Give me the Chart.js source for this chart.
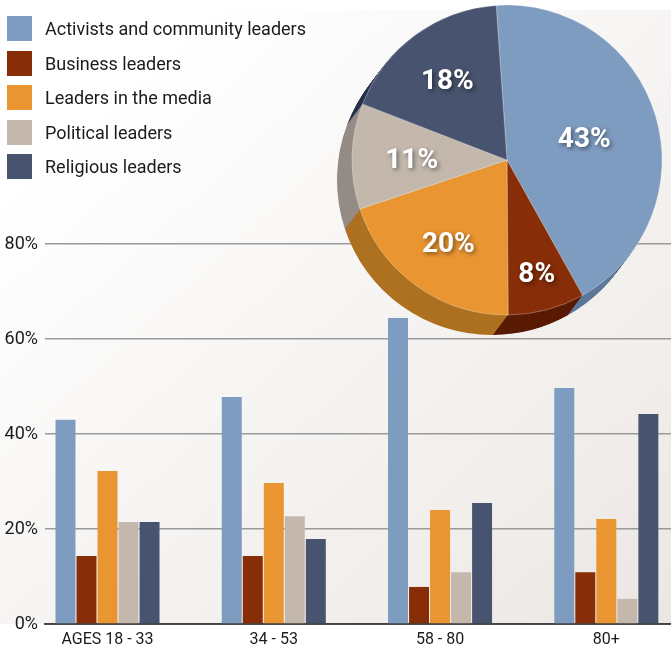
<!DOCTYPE html>
<html>
<head>
<meta charset="utf-8">
<script src="https://cdn.jsdelivr.net/npm/chart.js@4.4.1/dist/chart.umd.min.js"></script>
<style>
  html, body { margin: 0; padding: 0; background: #fff; }
  #wrap { position: relative; width: 671px; height: 648px; overflow: hidden; }
  #panel { position: absolute; left: 0; top: 10px; width: 671px; height: 614px;
           background: linear-gradient(to bottom right, #ffffff 15%, #ebe7e3 100%); }
  #barChart { position: absolute; left: 0; top: 0; }
  #pieChart { position: absolute; left: 332px; top: 0; }
  #legend { position: absolute; left: 7px; top: 16px; font: 18px Roboto, sans-serif; color: #1b1b1b; }
  #legend .row { display: flex; align-items: center; height: 25px; margin-bottom: 9.5px; }
  #legend .box { width: 25px; height: 25px; margin-right: 13px; }
</style>
</head>
<body>
<div id="wrap">
  <div id="panel"></div>
  <canvas id="barChart" width="671" height="648"></canvas>
  <canvas id="pieChart" width="339" height="340"></canvas>
  <div id="legend"></div>
</div>
<script>
// data
const categories = ["AGES 18 - 33", "34 - 53", "58 - 80", "80+"];
const seriesNames = ["Activists and community leaders", "Business leaders", "Leaders in the media", "Political leaders", "Religious leaders"];
const activists = [43, 47.8, 64.4, 49.7];
const business = [14.3, 14.3, 7.8, 10.9];
const media = [32.2, 29.7, 24, 22.1];
const political = [21.5, 22.7, 10.9, 5.3];
const religious = [21.5, 17.9, 25.5, 44.2];
const yTicks = [0, 20, 40, 60, 80];

const pieValues = [43, 8, 20, 11, 18];
const pieLabels = ["43%", "8%", "20%", "11%", "18%"];

// styles
const colors = ["#7e9bc0", "#872d07", "#e89532", "#c4b8ad", "#48546f"];
const sideColors = ["#5d7898", "#5a1b04", "#ad7120", "#958c86", "#26324d"];
const labelRadius = [0.52, 0.75, 0.65, 0.615, 0.648];

// html legend
const legendEl = document.getElementById("legend");
seriesNames.forEach((name, i) => {
    const row = document.createElement("div");
    row.className = "row";
    row.innerHTML = '<span class="box" style="background:' + colors[i] + '"></span><span>' + name + '</span>';
    legendEl.appendChild(row);
});

const seriesValues = [activists, business, media, political, religious];

// bar chart
new Chart(document.getElementById("barChart"), {
    type: "bar",
    data: {
        datasets: seriesValues.map((vals, i) => ({
            label: seriesNames[i],
            backgroundColor: colors[i],
            data: vals.map((v, j) => ({ x: j, y: v })),
        })),
    },
    options: {
        responsive: false,
        animation: false,
        layout: { padding: { top: 244, right: 0, bottom: 0, left: 0 } },
        datasets: { bar: { categoryPercentage: 0.632, barPercentage: 0.95 } },
        plugins: { legend: { display: false }, tooltip: { enabled: false } },
        scales: {
            x: {
                type: "linear",
                bounds: "data",
                min: -0.376,
                max: 3.389,
                offset: false,
                z: 1,
                afterBuildTicks: (s) => { s.ticks = categories.map((c, i) => ({ value: i })); },
                afterFit: (s) => { s.height = 24; s.paddingLeft = 0; s.paddingRight = 0; },
                grid: { display: false, drawTicks: false },
                border: { display: true, color: "rgba(50,50,50,0.85)", width: 2 },
                ticks: {
                    autoSkip: false,
                    maxRotation: 0,
                    padding: 6,
                    color: "#1b1b1b",
                    font: { family: "Roboto", size: 16 },
                    callback: (v) => categories[v] ?? "",
                },
            },
            y: {
                min: yTicks[0],
                max: yTicks[yTicks.length - 1],
                afterFit: (s) => { s.width = 45; },
                grid: { color: "#9a9a9a", lineWidth: 1.5, drawTicks: false },
                border: { display: false },
                ticks: {
                    stepSize: 20,
                    padding: 7,
                    color: "#1b1b1b",
                    font: { family: "Roboto", size: 18 },
                    callback: (v) => v + "%",
                },
            },
        },
    },
});

// 3d side of the pie
const extrude = {
    id: "extrude",
    beforeDatasetsDraw(chart) {
        const ctx = chart.ctx;
        const arcs = chart.getDatasetMeta(0).data;
        const steps = 30;
        ctx.save();
        for (let s = steps; s >= 1; s--) {
            const dx = -15 * s / steps, dy = 20 * s / steps;
            arcs.forEach((a, i) => {
                const p = a.getProps(["x", "y", "startAngle", "endAngle", "outerRadius"]);
                ctx.beginPath();
                ctx.moveTo(p.x + dx, p.y + dy);
                ctx.arc(p.x + dx, p.y + dy, p.outerRadius, p.startAngle, p.endAngle);
                ctx.closePath();
                ctx.fillStyle = sideColors[i];
                ctx.fill();
            });
        }
        ctx.restore();
    },
};

// white percentage labels
const pieText = {
    id: "pieText",
    afterDatasetsDraw(chart) {
        const ctx = chart.ctx;
        const arcs = chart.getDatasetMeta(0).data;
        ctx.save();
        ctx.font = "bold 28px Roboto";
        ctx.textAlign = "center";
        ctx.textBaseline = "alphabetic";
        ctx.fillStyle = "#ffffff";
        ctx.shadowColor = "rgba(0,0,0,0.45)";
        ctx.shadowOffsetX = 2;
        ctx.shadowOffsetY = 2;
        ctx.shadowBlur = 4;
        arcs.forEach((a, i) => {
            const p = a.getProps(["x", "y", "startAngle", "endAngle", "outerRadius"]);
            const mid = (p.startAngle + p.endAngle) / 2;
            const r = p.outerRadius * labelRadius[i];
            ctx.fillText(pieLabels[i], p.x + Math.cos(mid) * r, p.y + Math.sin(mid) * r + 10);
        });
        ctx.restore();
    },
};

new Chart(document.getElementById("pieChart"), {
    type: "pie",
    data: {
        labels: seriesNames,
        datasets: [{
            data: pieValues,
            backgroundColor: colors,
            borderColor: "rgba(255,255,255,0.3)",
            borderWidth: 1,
        }],
    },
    options: {
        responsive: false,
        animation: false,
        rotation: -4,
        radius: 155,
        layout: { padding: { left: 20, right: 9, top: 5, bottom: 25 } },
        plugins: { legend: { display: false }, tooltip: { enabled: false } },
    },
    plugins: [extrude, pieText],
});
</script>
</body>
</html>
